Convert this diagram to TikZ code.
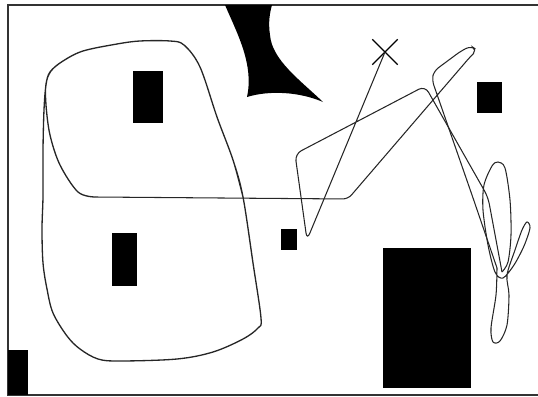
\documentclass[tikz,border=0pt]{standalone}
\usetikzlibrary{shapes.misc}

\begin{document}
\begin{tikzpicture}[x=0.02cm, y=-0.02cm,
    track/.style={line width=0.6pt, black!85},
    obstacle/.style={fill=black}]
    \useasboundingbox (0,0) rectangle (538,396);

    % Frame
    \draw[line width=1.1pt, black!80] (540,5) -- (8,5) -- (8,395) -- (540,395);

    % Obstacles
    \fill[obstacle] (133,71) rectangle (163,123);
    \fill[obstacle] (112,233) rectangle (137,286);
    \fill[obstacle] (8,350) rectangle (28,395);
    \fill[obstacle] (281,229) rectangle (297,250);
    \fill[obstacle] (383,248) rectangle (471,388);
    \fill[obstacle] (477,82) rectangle (502,113);
    \fill[obstacle] (225,5) .. controls (238,35) and (254,65) .. (247,97)
        .. controls (270,90) and (300,92) .. (323,102)
        .. controls (300,80) and (272,60) .. (270,35)
        .. controls (268,22) and (270,12) .. (272,5) -- cycle;

    % Goal
    \node[draw, cross out, line width=0.8pt, minimum size=0.48cm, inner sep=0pt] (goal) at (385,52) {};

    % Left loops
    \draw[track, line width=0.75pt] plot[smooth, tension=0.55] coordinates {
        (243,197) (233,160) (217,117) (200,67) (184,45) (170,41) (140,41)
        (117,44) (83,51) (63,61) (50,72) (46,85) (44,110) (43,150) (43,196)
        (42,229) (43,263) (47,289) (53,313) (67,336) (80,349) (98,359)
        (120,361) (177,359) (213,352) (243,339) (258,328) (261,318) (253,263)
        (243,197) (233,160) (217,117) (200,67) (184,45) (170,41) (140,41)
        (117,44) (83,51) (63,61) (51,71) (46,84) (46,105) (50,135) (60,165)
        (78,192) (95,197)};

    % Across to the right
    \draw[track, rounded corners=3pt] (95,197) -- (348,199) -- (470,57)
        -- (477,50) -- (471,46) -- (461,51) -- (434,71) -- (432,80)
        -- (472,195) -- (497,268);

    % Loops near the right wall
    \draw[track] plot[smooth, tension=0.5] coordinates {
        (497,268) (496,295) (491,328) (493,342) (500,341) (507,325) (509,295)
        (507,275) (515,250) (522,230) (527,222) (530,228) (524,246) (514,265)
        (503,278) (495,272) (488,245) (483,210) (484,185) (492,166) (498,162)
        (505,168) (510,200) (511,235) (508,262) (502,272)};

    % Back to the goal
    \draw[track, rounded corners=4pt] (502,272) -- (488,197) -- (425,86)
        -- (295,154) -- (307,240) -- (goal.center);
\end{tikzpicture}
\end{document}
